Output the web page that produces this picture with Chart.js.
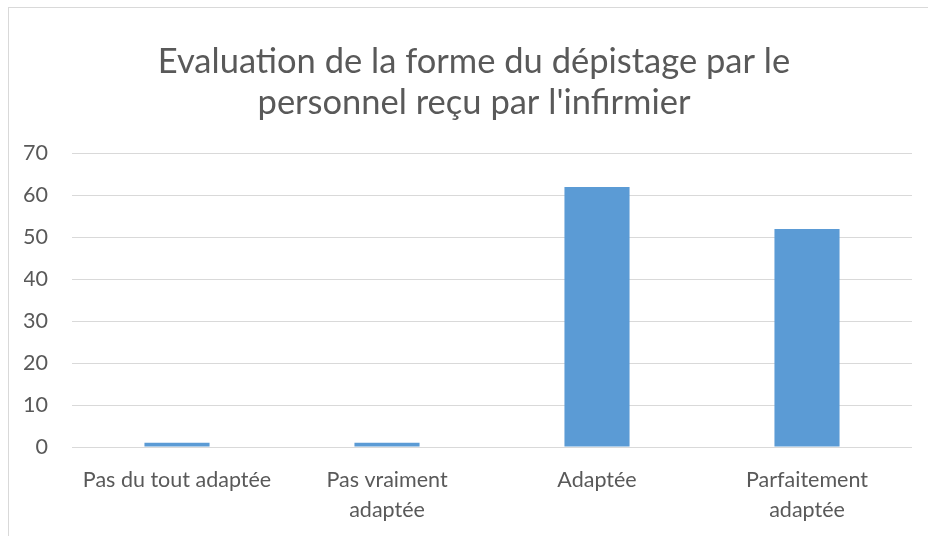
<!DOCTYPE html>
<html lang="fr">
<head>
    <meta charset="UTF-8">
    <title>Evaluation de la forme du dépistage</title>
    <script src="https://cdn.jsdelivr.net/npm/chart.js"></script>
    <style>
        html, body {
            margin: 0;
            padding: 0;
            background: #fff;
            overflow: hidden;
        }

        .frame {
            position: absolute;
            left: 8px;
            top: 7px;
            width: 1000px;
            height: 600px;
            border: 1px solid #d9d9d9;
        }

        .chart-container {
            position: absolute;
            left: 0;
            top: 0;
            width: 928px;
            height: 536px;
        }
    </style>
</head>
<body>
<div class="frame"></div>
<div class="chart-container">
    <canvas id="evalChart"></canvas>
</div>

<script>
    const categories = [
        "Pas du tout adaptée",
        ["Pas vraiment", "adaptée"],
        "Adaptée",
        ["Parfaitement", "adaptée"]
    ];
    const values = [1, 1, 62, 52];
    const yTicks = [0, 10, 20, 30, 40, 50, 60, 70];

    const textColor = "#595959";
    const fontFamily = "Lato, 'Open Sans', sans-serif";

    new Chart(document.getElementById("evalChart"), {
        type: "bar",
        data: {
            labels: categories,
            datasets: [{
                label: "Effectif",
                data: values,
                backgroundColor: "#5b9bd5",
                barPercentage: 0.31,
                categoryPercentage: 1
            }]
        },
        options: {
            responsive: true,
            maintainAspectRatio: false,
            animation: false,
            layout: {
                padding: { left: 24, right: 4, top: 0, bottom: 0 }
            },
            plugins: {
                legend: { display: false },
                tooltip: { enabled: false },
                title: {
                    display: true,
                    text: ["Evaluation de la forme du dépistage par le", "personnel reçu par l'infirmier"],
                    color: textColor,
                    font: { family: fontFamily, size: 34.5, weight: "normal", lineHeight: 1.18 },
                    padding: { top: 42, bottom: 30 }
                }
            },
            scales: {
                x: {
                    grid: { display: false, drawTicks: false },
                    border: { display: false },
                    ticks: {
                        color: textColor,
                        font: { family: fontFamily, size: 21.5, lineHeight: 1.4 },
                        padding: 18,
                        maxRotation: 0,
                        autoSkip: false
                    },
                    afterFit: axis => { axis.height = 89; }
                },
                y: {
                    min: 0,
                    max: 70,
                    afterBuildTicks: axis => { axis.ticks = yTicks.map(v => ({ value: v })); },
                    grid: { color: "#d9d9d9", lineWidth: 1, drawTicks: false },
                    border: { display: false },
                    ticks: {
                        color: textColor,
                        font: { family: fontFamily, size: 21.5 },
                        padding: 24
                    },
                    afterFit: axis => { axis.width = 48; }
                },
                // empty right-hand spacer so the title stays centred on the whole frame
                spacer: {
                    type: "linear",
                    position: "right",
                    grid: { display: false, drawTicks: false },
                    border: { display: false },
                    ticks: { display: false },
                    afterFit: axis => { axis.width = 12; }
                }
            }
        }
    });
</script>
</body>
</html>
